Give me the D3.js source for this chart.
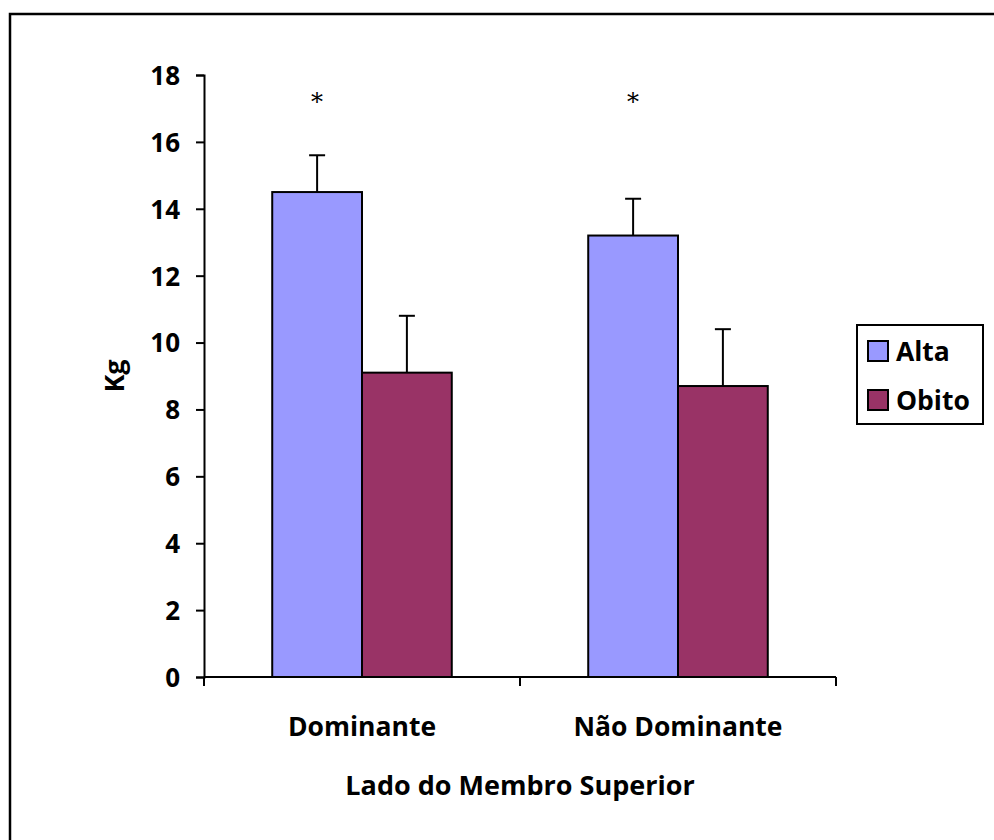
<!DOCTYPE html>
<html>
<head>
<meta charset="utf-8">
<script src="https://cdn.jsdelivr.net/npm/d3@7"></script>
<style>
  html, body { margin: 0; padding: 0; background: #fff; }
  svg { display: block; }
  text { font-family: "Open Sans", Lato, sans-serif; font-weight: bold; fill: #000; }
</style>
</head>
<body>
<svg id="chart" width="994" height="840"></svg>
<script>
// Grip strength by upper-limb side, discharge (Alta) vs death (Obito)
const categories = ["Dominante", "Não Dominante"];
const seriesNames = ["Alta", "Obito"];
const alta = [14.5, 13.2];
const obito = [9.1, 8.7];
const altaErr = [1.1, 1.1];
const obitoErr = [1.7, 1.7];
const significant = [true, true];
const yTicks = [0, 2, 4, 6, 8, 10, 12, 14, 16, 18];
const colors = ["#9999FF", "#993366"];

const values = [alta, obito];
const errors = [altaErr, obitoErr];

const svg = d3.select("#chart");

// outer frame
svg.append("rect")
  .attr("x", 10).attr("y", 14)
  .attr("width", 994).attr("height", 840)
  .attr("fill", "none").attr("stroke", "#000").attr("stroke-width", 2.5);

const plot = { left: 204, right: 836, top: 75, bottom: 677 };

const x = d3.scaleBand().domain(categories)
  .range([plot.left, plot.right]).paddingInner(0).paddingOuter(0);
const xs = d3.scaleBand().domain(seriesNames)
  .range([0, x.bandwidth()]).paddingInner(0).paddingOuter(0.76);
const y = d3.scaleLinear().domain([0, 18]).range([plot.bottom, plot.top]);

// bars
seriesNames.forEach((s, si) => {
  svg.append("g").selectAll("rect")
    .data(categories)
    .join("rect")
    .attr("x", (c) => x(c) + xs(s))
    .attr("y", (c, i) => y(values[si][i]))
    .attr("width", xs.bandwidth())
    .attr("height", (c, i) => y(0) - y(values[si][i]))
    .attr("fill", colors[si])
    .attr("stroke", "#000").attr("stroke-width", 2);
});

// error bars (upper only)
seriesNames.forEach((s, si) => {
  const g = svg.append("g").attr("stroke", "#000").attr("stroke-width", 2);
  categories.forEach((c, i) => {
    const cx = x(c) + xs(s) + xs.bandwidth() / 2;
    const top = y(values[si][i] + errors[si][i]);
    g.append("line").attr("x1", cx).attr("x2", cx)
      .attr("y1", y(values[si][i])).attr("y2", top);
    g.append("line").attr("x1", cx - 8).attr("x2", cx + 8)
      .attr("y1", top).attr("y2", top);
  });
});

// significance markers
categories.forEach((c, i) => {
  if (!significant[i]) return;
  svg.append("text")
    .attr("x", x(c) + xs("Alta") + xs.bandwidth() / 2)
    .attr("y", y(16.95))
    .attr("text-anchor", "middle")
    .style("font-family", "'DejaVu Serif', 'Liberation Serif', serif")
    .style("font-weight", "normal")
    .style("font-size", "24px")
    .text("*");
});

// y axis
const yAxis = svg.append("g")
  .attr("transform", `translate(${plot.left},0)`)
  .call(d3.axisLeft(y).tickValues(yTicks).tickSize(8).tickPadding(16).tickFormat(d3.format("d")));
yAxis.select(".domain").attr("stroke", "#000").attr("stroke-width", 2);
yAxis.selectAll(".tick line").attr("stroke", "#000").attr("stroke-width", 2);
yAxis.selectAll(".tick text").style("font-size", "26px").attr("dy", "0.36em");

// x axis: ticks at category boundaries
const xAxisG = svg.append("g");
xAxisG.append("line")
  .attr("x1", plot.left).attr("x2", plot.right)
  .attr("y1", plot.bottom).attr("y2", plot.bottom)
  .attr("stroke", "#000").attr("stroke-width", 2);
const boundaries = [plot.left].concat(categories.map((c) => x(c) + x.bandwidth()));
xAxisG.selectAll("line.tick").data(boundaries).join("line")
  .attr("class", "tick")
  .attr("x1", (d) => d).attr("x2", (d) => d)
  .attr("y1", plot.bottom).attr("y2", plot.bottom + 9)
  .attr("stroke", "#000").attr("stroke-width", 2);
xAxisG.selectAll("text").data(categories).join("text")
  .attr("x", (c) => x(c) + x.bandwidth() / 2)
  .attr("y", 736)
  .attr("text-anchor", "middle")
  .style("font-size", "26.5px")
  .text((c) => c);

// axis titles
svg.append("text")
  .attr("x", (plot.left + plot.right) / 2).attr("y", 795)
  .attr("text-anchor", "middle")
  .style("font-size", "27px")
  .text("Lado do Membro Superior");

svg.append("text")
  .attr("transform", `translate(124,376) rotate(-90)`)
  .attr("text-anchor", "middle")
  .style("font-size", "27px")
  .text("Kg");

// legend
const legend = svg.append("g");
legend.append("rect")
  .attr("x", 857).attr("y", 325).attr("width", 126).attr("height", 99)
  .attr("fill", "#fff").attr("stroke", "#000").attr("stroke-width", 2);
seriesNames.forEach((s, si) => {
  const cy = 351 + si * 49;
  legend.append("rect")
    .attr("x", 868).attr("y", cy - 10).attr("width", 20).attr("height", 20)
    .attr("fill", colors[si]).attr("stroke", "#000").attr("stroke-width", 2);
  legend.append("text")
    .attr("x", 896).attr("y", cy + 10)
    .style("font-size", "26.5px")
    .text(s);
});
</script>
</body>
</html>
